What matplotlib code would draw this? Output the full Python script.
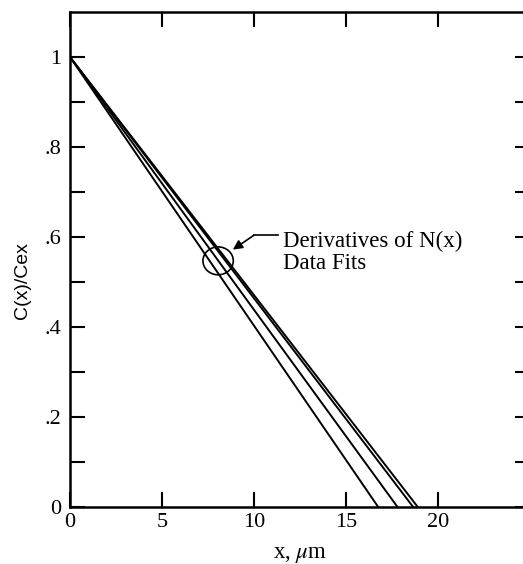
import numpy as np
import matplotlib.pyplot as plt
from matplotlib.patches import Ellipse
from matplotlib.ticker import FixedLocator

plt.rcParams['font.family'] = ['Liberation Serif', 'DejaVu Serif']
plt.rcParams['mathtext.fontset'] = 'stix'

# x-intercepts of the straight profiles C(x)/Cex, all starting from 1 at x = 0
x_intercepts = [16.75, 17.8, 18.65, 18.9]
y_start = 1.0

y_ticks = [0, 0.2, 0.4, 0.6, 0.8, 1.0]
y_ticklabels = ['0', '.2', '.4', '.6', '.8', '1']
x_ticks = [0, 5, 10, 15, 20]

fig = plt.figure(figsize=(5.23, 5.64), dpi=100)
ax = fig.add_axes([70 / 523, (564 - 507) / 564, 460 / 523, 495 / 564])

for x0 in x_intercepts:
    ax.plot([0, x0], [y_start, 0], color='black', lw=1.4)

ax.set_xlim(0, 25)
ax.set_ylim(0, 1.1)

ax.set_xticks(x_ticks)
ax.set_xticklabels([str(t) for t in x_ticks])
ax.set_yticks(y_ticks)
ax.set_yticklabels(y_ticklabels)
ax.yaxis.set_minor_locator(FixedLocator(np.arange(0.1, 1.05, 0.2)))

ax.tick_params(axis='both', which='both', direction='in', top=True, right=True,
               width=1.5, labelsize=16)
ax.tick_params(axis='both', which='major', length=11)
ax.tick_params(axis='y', which='minor', length=11)
ax.tick_params(axis='x', pad=4)
ax.tick_params(axis='y', pad=6)
for s in ax.spines.values():
    s.set_linewidth(1.8)

ax.set_xlabel(r'x, $\mu$m', fontsize=16.5, labelpad=9)
# y label is set in a sans face and sits a little below the axis centre
fig.text(22 / 523, 1 - 281 / 564, 'C(x)/Cex', rotation=90, fontsize=14,
         family=['Liberation Sans', 'DejaVu Sans'], ha='center', va='center')

# annotation ellipse and arrow
ax.add_patch(Ellipse((8.05, 0.547), 1.65, 0.062, fill=False, color='black', lw=1.2))
ax.plot([10.0, 11.3], [0.604, 0.604], color='black', lw=1.2)
ax.annotate('', xy=(8.85, 0.572), xytext=(10.0, 0.604),
            arrowprops=dict(arrowstyle='-|>', color='black', lw=1.2,
                            mutation_scale=14, shrinkA=0, shrinkB=0))
ax.text(11.55, 0.614, 'Derivatives of N(x)\nData Fits', fontsize=16.5,
        va='top', ha='left', linespacing=1.1)

fig.savefig('out.png', dpi=100)
